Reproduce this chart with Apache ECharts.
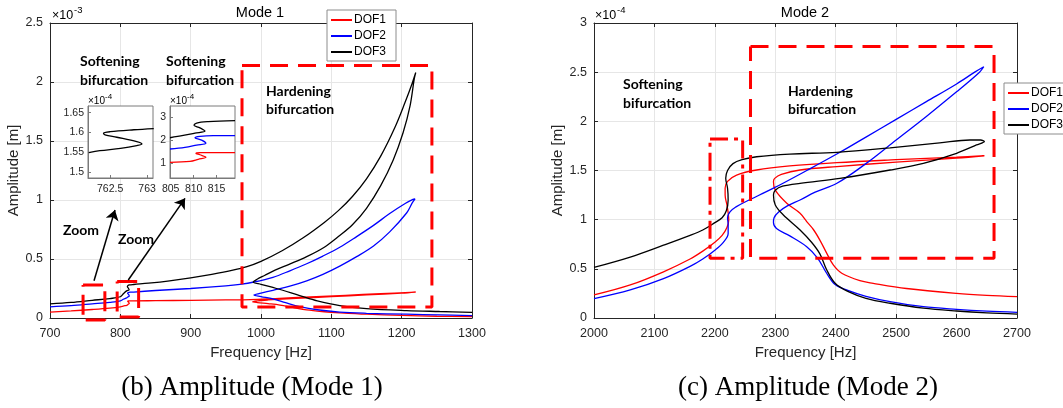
<!DOCTYPE html>
<html>
<head>
<meta charset="utf-8">
<script src="https://cdn.jsdelivr.net/npm/echarts@6/dist/echarts.min.js"></script>
<style>
  html, body { margin: 0; padding: 0; background: #fff; }
  #chart { width: 1063px; height: 408px; }
</style>
</head>
<body>
<div id="chart"></div>
<script>
// ---- Mode 1 frequency response (amplitude in units of 1e-3 m) ----
const mode1Dof1 = [
  [700,0.05],[730,0.06],[760,0.072],[785,0.084],[800,0.095],[805,0.103],[809,0.107],[811,0.116],[812.7,0.125],
  [811.4,0.136],[810.5,0.142],[811.4,0.145],[819,0.145],[850,0.147],[900,0.15],[950,0.153],[985,0.156],
  [1020,0.165],[1070,0.178],[1120,0.192],[1170,0.206],[1220,0.22],
  [1200,0.211],[1150,0.196],[1100,0.181],[1050,0.166],[1010,0.153],[995,0.146],[988,0.138],
  [995,0.131],[1010,0.122],[1027,0.11],[1045,0.09],[1065,0.068],[1090,0.053],[1112,0.044],[1150,0.032],
  [1200,0.022],[1250,0.015],[1300,0.011]
];
const mode1Dof2 = [
  [700,0.095],[730,0.105],[760,0.12],[785,0.133],[800,0.145],[805,0.161],[808,0.168],[810.6,0.178],[812.7,0.186],
  [811.7,0.2],[810.3,0.21],[811.4,0.216],[814,0.219],[819,0.22],[850,0.233],[900,0.25],[950,0.272],[970,0.285],
  [990,0.305],[1017,0.345],[1041,0.4],[1065,0.46],[1088,0.525],[1112,0.6],[1136,0.69],[1160,0.785],[1183,0.885],
  [1205,0.97],[1216,1.005],[1219,1.01],
  [1215,0.975],[1207,0.89],[1183,0.73],[1160,0.61],[1136,0.52],[1112,0.44],[1088,0.37],[1065,0.315],[1041,0.27],
  [1017,0.235],[1000,0.21],[990,0.195],
  [1000,0.182],[1017,0.162],[1035,0.13],[1055,0.097],[1080,0.07],[1112,0.05],[1150,0.04],[1207,0.032],
  [1254,0.026],[1300,0.02]
];
const mode1Dof3 = [
  [700,0.12],[730,0.132],[760,0.15],[785,0.165],[800,0.18],[805,0.21],[809,0.23],[812.5,0.239],[811.4,0.253],
  [810,0.264],[810.6,0.274],[813,0.28],[819,0.284],[840,0.295],[870,0.315],[900,0.34],[930,0.37],[960,0.405],
  [980,0.435],[1000,0.48],[1030,0.57],[1060,0.68],[1090,0.81],[1110,0.91],[1130,1.03],[1150,1.18],[1170,1.37],
  [1190,1.61],[1205,1.83],[1215,1.99],[1220,2.08],
  [1218,2.03],[1212,1.8],[1202,1.57],[1188,1.34],[1170,1.12],[1150,0.93],[1130,0.79],[1110,0.69],[1090,0.6],
  [1065,0.52],[1040,0.455],[1020,0.405],[1005,0.36],[995,0.33],[989,0.305],
  [1000,0.285],[1022,0.25],[1055,0.19],[1080,0.145],[1112,0.105],[1150,0.08],[1207,0.063],[1254,0.055],[1300,0.048]
];

// Zoomed softening regions (amplitude in units of 1e-4 m)
const inset1Dof3 = [
  [762.21,1.549],[762.36,1.554],[762.64,1.560],[762.86,1.567],[762.93,1.571],[762.86,1.577],[762.59,1.588],
  [762.43,1.594],[762.41,1.598],[762.5,1.602],[762.82,1.607],[763.09,1.610]
];
const inset2Dof1 = [
  [804.85,1.03],[809.2,1.07],[811.0,1.16],[812.67,1.25],[811.37,1.36],[810.5,1.42],[811.37,1.45],[815,1.45],[819,1.45]
];
const inset2Dof2 = [
  [804.85,1.61],[808.1,1.68],[810.65,1.78],[812.67,1.86],[811.74,2.0],[810.28,2.10],[811.37,2.16],[814.26,2.19],[819,2.19]
];
const inset2Dof3 = [
  [804.85,2.10],[807.74,2.20],[810.28,2.30],[812.46,2.39],[811.37,2.53],[810.07,2.64],[810.65,2.74],[813.17,2.80],[819,2.84]
];

// ---- Mode 2 frequency response (amplitude in units of 1e-4 m) ----
const mode2Dof1 = [
  [2000,0.234],[2060,0.336],[2115,0.47],[2159,0.6],[2180,0.68],[2200,0.77],[2212,0.84],[2220,0.92],[2223,1.0],
  [2222,1.07],[2220,1.15],[2217,1.25],[2217,1.32],[2221,1.39],[2236,1.454],[2269,1.505],[2324,1.546],[2402,1.58],
  [2500,1.61],[2600,1.637],[2646,1.65],
  [2600,1.625],[2500,1.585],[2402,1.54],[2341,1.505],[2310,1.46],[2299,1.42],[2297,1.386],[2300,1.3],[2319,1.167],
  [2341,1.065],[2352,0.98],[2363,0.9],[2374,0.79],[2385,0.66],[2396,0.54],[2410,0.455],[2440,0.38],[2462,0.353],
  [2517,0.3],[2600,0.25],[2650,0.23],[2700,0.217]
];
const mode2Dof2 = [
  [2000,0.196],[2060,0.285],[2115,0.4],[2159,0.525],[2180,0.6],[2200,0.69],[2214,0.77],[2222,0.86],[2222,0.95],
  [2221,1.02],[2225,1.08],[2235,1.13],[2250,1.18],[2297,1.32],[2352,1.5],[2404,1.675],[2450,1.84],[2500,2.02],
  [2550,2.2],[2600,2.38],[2630,2.5],[2645,2.555],
  [2638,2.5],[2600,2.3],[2550,2.05],[2500,1.81],[2450,1.57],[2402,1.37],[2366,1.28],[2341,1.2],[2320,1.14],
  [2306,1.08],[2298,1.02],[2297,0.97],[2302,0.91],[2324,0.835],[2352,0.725],[2370,0.61],[2385,0.455],[2399,0.34],
  [2420,0.28],[2450,0.22],[2490,0.166],[2545,0.115],[2600,0.088],[2650,0.07],[2700,0.058]
];
const mode2Dof3 = [
  [2000,0.515],[2060,0.62],[2115,0.74],[2159,0.84],[2180,0.895],[2200,0.97],[2212,1.02],[2219,1.09],[2222,1.2],
  [2221,1.32],[2218,1.42],[2221,1.5],[2230,1.57],[2245,1.61],[2269,1.64],[2324,1.667],[2402,1.685],[2490,1.73],
  [2572,1.78],[2622,1.81],[2640,1.81],[2646,1.795],
  [2633,1.76],[2600,1.675],[2545,1.573],[2490,1.505],[2407,1.42],[2341,1.37],[2312,1.34],[2300,1.3],[2297,1.25],
  [2300,1.15],[2313,1.05],[2341,0.895],[2360,0.77],[2374,0.65],[2385,0.49],[2399,0.353],[2420,0.27],[2450,0.2],
  [2490,0.15],[2545,0.1],[2600,0.071],[2650,0.052],[2700,0.04]
];

// Axis ranges and tick values
const mode1FreqRange = [700, 1300];
const mode1AmpRange = [0, 2.5];
const mode2FreqRange = [2000, 2700];
const mode2AmpRange = [0, 3];
const inset1FreqRange = [762.2, 763.08];
const inset1FreqTicks = [762.5, 763];
const inset1AmpRange = [1.485, 1.667];
const inset1AmpTicks = [1.5, 1.55, 1.6, 1.65];
const inset2FreqRange = [804.85, 819];
const inset2FreqTicks = [805, 810, 815];
const inset2AmpRange = [0.35, 3.48];
const inset2AmpTicks = [1, 2, 3];

// Highlight regions [f0, f1, a0, a1] and zoom arrows
const mode1Regions = [[973, 1243, 0.093, 2.14], [747, 778, -0.017, 0.28], [795.5, 826, 0.008, 0.31]];
const mode2SofteningRegion = [2192, 2246, 0.607, 1.82];
const mode2HardeningRegion = [2259, 2662, 0.607, 2.76];
const mode1Arrows = [[[762.6, 0.316], [792.4, 0.915]], [[811.3, 0.322], [892, 1.014]]];

const FONT = '"Liberation Sans", Arial, Helvetica, sans-serif';
const AX = '#262626';
const GRID = '#e6e6e6';
const RED = '#ff0000', BLUE = '#0000ff', BLACK = '#000000';
const plain = v => String(v);

function mainX(gridIndex, range, top) {
  return {
    type: 'value', gridIndex, min: range[0], max: range[1], interval: 100,
    position: top ? 'top' : 'bottom',
    axisLine: { show: true, onZero: false, lineStyle: { color: AX, width: 1 } },
    axisTick: { show: true, inside: true, length: 4, lineStyle: { color: AX } },
    axisLabel: { show: !top, color: AX, fontSize: 12.5, fontFamily: FONT, margin: 9, formatter: plain },
    splitLine: { show: !top, lineStyle: { color: GRID, width: 1 } },
    name: top ? '' : 'Frequency [Hz]', nameLocation: 'middle', nameGap: 27,
    nameTextStyle: { color: AX, fontSize: 15, fontFamily: FONT }
  };
}
function mainY(gridIndex, range, right, gap) {
  return {
    type: 'value', gridIndex, min: range[0], max: range[1], interval: 0.5,
    position: right ? 'right' : 'left',
    axisLine: { show: true, onZero: false, lineStyle: { color: AX, width: 1 } },
    axisTick: { show: true, inside: true, length: 4, lineStyle: { color: AX } },
    axisLabel: { show: !right, color: AX, fontSize: 12.5, fontFamily: FONT, margin: 7, formatter: plain },
    splitLine: { show: !right, lineStyle: { color: GRID, width: 1 } },
    name: right ? '' : 'Amplitude [m]', nameLocation: 'middle', nameGap: gap,
    nameTextStyle: { color: AX, fontSize: 15, fontFamily: FONT }
  };
}
function insetAxis(gridIndex, range, ticks, isX) {
  return {
    type: 'value', gridIndex, min: range[0], max: range[1], z: 6,
    position: isX ? 'bottom' : 'left',
    axisLine: { show: true, onZero: false, lineStyle: { color: '#7a7a7a', width: 1 } },
    axisTick: { show: true, inside: true, length: 3, customValues: ticks, lineStyle: { color: '#7a7a7a' } },
    axisLabel: { show: true, customValues: ticks, color: AX, fontSize: 10.5, fontFamily: FONT, margin: isX ? 6 : 4, formatter: plain },
    splitLine: { show: false }
  };
}
function curve(name, data, color, axis, z) {
  return {
    type: 'line', name, data, xAxisIndex: axis, yAxisIndex: axis, symbol: 'none', smooth: 0.35,
    lineStyle: { color, width: 1.3 }, itemStyle: { color }, z: z || 2, silent: true
  };
}
function region(r, axis, dash) {
  const [f0, f1, a0, a1] = r;
  return {
    type: 'line', data: [[f0, a1], [f1, a1], [f1, a0], [f0, a0], [f0, a1]],
    xAxisIndex: axis, yAxisIndex: axis, symbol: 'none', clip: false, silent: true, z: 3,
    lineStyle: { color: RED, width: 3, type: dash }
  };
}
function txt(text, x, y, font, align) {
  return {
    type: 'text', x, y, z: 100, silent: true,
    style: { text, font, fill: '#000', textAlign: align || 'left', align: align || 'left',
             textVerticalAlign: 'middle', verticalAlign: 'middle' }
  };
}

const BOLD = 'bold 14px Lato, "Open Sans", sans-serif';
const legendBase = {
  data: ['DOF1', 'DOF2', 'DOF3'], orient: 'vertical', selectedMode: false, icon: 'rect',
  backgroundColor: '#fff', borderColor: '#8c8c8c', borderWidth: 1, borderRadius: 0,
  padding: [4, 10, 3, 4], itemGap: 4, itemWidth: 21, itemHeight: 2,
  textStyle: { fontFamily: FONT, fontSize: 12, color: '#000', padding: [0, 0, 0, -3] }
};

const option = {
  animation: false,
  backgroundColor: '#fff',
  grid: [
    { left: 50, top: 23, width: 422, height: 295 },
    { left: 594, top: 23, width: 423, height: 295 },
    { left: 88, top: 106, width: 65, height: 72, show: true, backgroundColor: '#fff', borderColor: '#7a7a7a', borderWidth: 1, z: 5 },
    { left: 170, top: 106, width: 65, height: 72, show: true, backgroundColor: '#fff', borderColor: '#7a7a7a', borderWidth: 1, z: 5 }
  ],
  xAxis: [
    mainX(0, mode1FreqRange, false),
    mainX(1, mode2FreqRange, false),
    insetAxis(2, inset1FreqRange, inset1FreqTicks, true),
    insetAxis(3, inset2FreqRange, inset2FreqTicks, true),
    mainX(0, mode1FreqRange, true),
    mainX(1, mode2FreqRange, true)
  ],
  yAxis: [
    mainY(0, mode1AmpRange, false, 27),
    mainY(1, mode2AmpRange, false, 29),
    insetAxis(2, inset1AmpRange, inset1AmpTicks, false),
    insetAxis(3, inset2AmpRange, inset2AmpTicks, false),
    mainY(0, mode1AmpRange, true, 0),
    mainY(1, mode2AmpRange, true, 0)
  ],
  legend: [
    Object.assign({ left: 327, top: 10 }, legendBase),
    Object.assign({ left: 1004, top: 83 }, legendBase)
  ],
  series: [
    region(mode1Regions[0], 0, [18, 10]),
    region(mode1Regions[1], 0, [20, 8]),
    region(mode1Regions[2], 0, [20, 8]),
    curve('DOF1', mode1Dof1, RED, 0),
    curve('DOF2', mode1Dof2, BLUE, 0),
    curve('DOF3', mode1Dof3, BLACK, 0),
    {
      type: 'lines', coordinateSystem: 'cartesian2d', xAxisIndex: 0, yAxisIndex: 0, silent: true, z: 4,
      symbol: ['none', 'arrow'], symbolSize: 10,
      lineStyle: { color: BLACK, width: 1.5, opacity: 1, curveness: 0 },
      data: mode1Arrows.map(c => ({ coords: c }))
    },
    region(mode2SofteningRegion, 1, [18, 6, 4, 6]),
    region(mode2HardeningRegion, 1, [18, 10]),
    curve('DOF1', mode2Dof1, RED, 1),
    curve('DOF2', mode2Dof2, BLUE, 1),
    curve('DOF3', mode2Dof3, BLACK, 1),
    curve('DOF3', inset1Dof3, BLACK, 2, 7),
    curve('DOF1', inset2Dof1, RED, 3, 7),
    curve('DOF2', inset2Dof2, BLUE, 3, 7),
    curve('DOF3', inset2Dof3, BLACK, 3, 7)
  ],
  graphic: [
    txt('Mode 1', 260, 13, '14.5px ' + FONT, 'center'),
    txt('Mode 2', 805, 13, '14.5px ' + FONT, 'center'),
    txt('×10', 52, 16, '12.5px ' + FONT, 'left'),
    txt('-3', 74, 10, '9.5px ' + FONT, 'left'),
    txt('×10', 595, 16, '12.5px ' + FONT, 'left'),
    txt('-4', 617, 10, '9.5px ' + FONT, 'left'),
    txt('×10', 88, 101, '10px ' + FONT, 'left'),
    txt('-4', 105, 97, '8px ' + FONT, 'left'),
    txt('×10', 170, 101, '10px ' + FONT, 'left'),
    txt('-4', 187, 97, '8px ' + FONT, 'left'),
    txt('Softening', 80, 61, BOLD),
    txt('bifurcation', 80, 80, BOLD),
    txt('Softening', 166, 61, BOLD),
    txt('bifurcation', 166, 80, BOLD),
    txt('Hardening', 266, 91, BOLD),
    txt('bifurcation', 266, 109, BOLD),
    txt('Zoom', 63, 230, BOLD),
    txt('Zoom', 118, 239, BOLD),
    txt('Softening', 623, 84, BOLD),
    txt('bifurcation', 623, 103, BOLD),
    txt('Hardening', 788, 91, BOLD),
    txt('bifurcation', 788, 109, BOLD),
    txt('(b) Amplitude (Mode 1)', 252, 388, '27px "Liberation Serif", "Times New Roman", serif', 'center'),
    txt('(c) Amplitude (Mode 2)', 808, 388, '27px "Liberation Serif", "Times New Roman", serif', 'center')
  ]
};

const chart = echarts.init(document.getElementById('chart'), null, { renderer: 'canvas' });
chart.setOption(option);
</script>
</body>
</html>
